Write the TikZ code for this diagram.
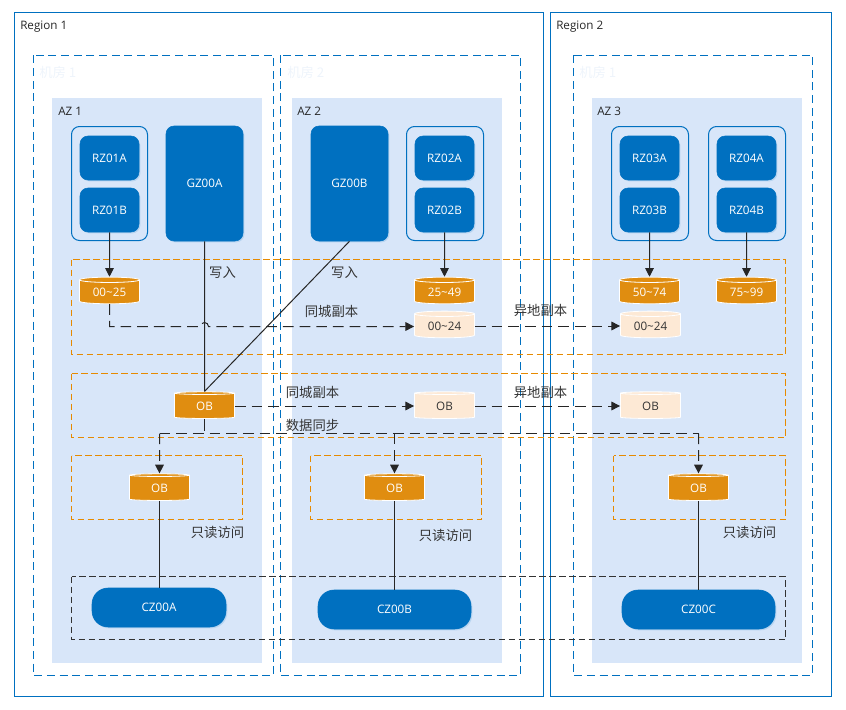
\documentclass[tikz,border=0pt]{standalone}
\usepackage{fontspec}
\setmainfont{Open Sans}
\newfontfamily\cjk{Noto Sans CJK SC}
\usetikzlibrary{shapes.geometric,arrows.meta,shadows}

\definecolor{hwblue}{HTML}{0070C0}
\definecolor{azfill}{HTML}{D8E6F9}
\definecolor{oborange}{HTML}{E08D10}
\definecolor{dashorange}{HTML}{E68A00}
\definecolor{oblight}{HTML}{FDE9D5}
\definecolor{inkgray}{HTML}{333333}
\definecolor{roomtext}{HTML}{EEF4FB}

\tikzset{
    sized/.style 2 args={minimum width=#1*0.75pt, minimum height=#2*0.75pt, inner sep=0pt},
    softshadow/.style={drop shadow={shadow xshift=1pt, shadow yshift=-1pt, opacity=0.15, fill=hwblue}},
    zonebox/.style={draw=hwblue, fill=hwblue, text=white, rounded corners=6pt, font=\fontsize{8.75}{10}\selectfont, softshadow},
    czbox/.style={zonebox, rounded corners=12pt},
    groupbox/.style={draw=hwblue, line width=0.75pt, rounded corners=6pt},
    regionline/.style={draw=hwblue, line width=0.75pt},
    roomline/.style={draw=hwblue, line width=0.75pt, dash pattern=on 6pt off 3.5pt},
    orangeline/.style={draw=dashorange, line width=1pt, dash pattern=on 5pt off 2.5pt},
    darkline/.style={draw=inkgray, line width=0.75pt, dash pattern=on 5pt off 2.5pt},
    dbbase/.style={cylinder, shape border rotate=90, aspect=0.16, draw=white, line width=0.6pt,
        cylinder uses custom fill, minimum width=45pt, minimum height=20pt, inner sep=0pt,
        font=\fontsize{8.75}{10}\selectfont},
    dbmain/.style={dbbase, cylinder body fill=oborange, cylinder end fill=oborange, text=white},
    dbcopy/.style={dbbase, cylinder body fill=oblight, cylinder end fill=oblight, text=inkgray},
    conn/.style={draw=black!85, line width=0.75pt},
    connarrow/.style={conn, -{Triangle[length=6.5pt,width=6.5pt]}},
    dashconn/.style={conn, dash pattern=on 8pt off 4.5pt},
    dasharrow/.style={dashconn, -{Triangle[length=6.5pt,width=6.5pt]}},
    plainlabel/.style={text=black!85, font=\fontsize{8.75}{10}\selectfont, inner sep=0pt, anchor=west},
    notelabel/.style={text=black!80, font=\cjk\fontsize{10}{12}\selectfont, inner sep=0pt},
    roomlabel/.style={text=roomtext, font=\cjk\fontsize{10}{12}\selectfont, inner sep=0pt, anchor=west},
}

\begin{document}
\begin{tikzpicture}[x=0.75pt, y=-0.75pt]
    \useasboundingbox (0,0) rectangle (846,710);

    % 可用区底色
    \fill[azfill] (52,98) rectangle (262,663);
    \fill[azfill] (292,98) rectangle (502,663);
    \fill[azfill] (592,98) rectangle (802,663);

    % Region 和机房边框
    \draw[regionline] (14.5,12.5) rectangle (543.5,696.5);
    \draw[regionline] (550.5,12.5) rectangle (831.5,696.5);
    \draw[roomline] (33.5,55.5) rectangle (273.5,675.5);
    \draw[roomline] (280.5,55.5) rectangle (520.5,675.5);
    \draw[roomline] (573.5,55.5) rectangle (812.5,675.5);

    \node[plainlabel] (region1) at (20,27) {Region 1};
    \node[plainlabel] (region2) at (556,27) {Region 2};
    \node[roomlabel] (room1) at (39,72) {机房 1};
    \node[roomlabel] (room2) at (287,72) {机房 2};
    \node[roomlabel] (room3) at (579,72) {机房 1};
    \node[plainlabel] (az1) at (58,111.5) {AZ 1};
    \node[plainlabel] (az2) at (297,111.5) {AZ 2};
    \node[plainlabel] (az3) at (597,111.5) {AZ 3};

    % 分组虚线框
    \draw[orangeline] (71.5,259.5) rectangle (785.5,354.5);
    \draw[orangeline] (71.5,373.5) rectangle (785.5,437.5);
    \draw[orangeline] (71.5,455.5) rectangle (242.5,519.5);
    \draw[orangeline] (310.5,455.5) rectangle (481.5,519.5);
    \draw[orangeline] (613.5,455.5) rectangle (785.5,519.5);
    \draw[darkline] (71.5,576.5) rectangle (785.5,639.5);

    % RZ 外框
    \draw[groupbox] (71.5,126.5) rectangle (147.5,240.5);
    \draw[groupbox] (406.5,126.5) rectangle (483.5,240.5);
    \draw[groupbox] (611.5,126.5) rectangle (688.5,240.5);
    \draw[groupbox] (708.5,126.5) rectangle (785.5,240.5);

    % 单元
    \node[zonebox, sized={59}{44}] (rz01a) at (109.5,158) {RZ01A};
    \node[zonebox, sized={59}{44}] (rz01b) at (109.5,210) {RZ01B};
    \node[zonebox, sized={59}{44}] (rz02a) at (444.5,158) {RZ02A};
    \node[zonebox, sized={59}{44}] (rz02b) at (444.5,210) {RZ02B};
    \node[zonebox, sized={59}{44}] (rz03a) at (649.5,158) {RZ03A};
    \node[zonebox, sized={59}{44}] (rz03b) at (649.5,210) {RZ03B};
    \node[zonebox, sized={59}{44}] (rz04a) at (746.5,158) {RZ04A};
    \node[zonebox, sized={59}{44}] (rz04b) at (746.5,210) {RZ04B};
    \node[zonebox, sized={77}{115}] (gz00a) at (204.5,183.5) {GZ00A};
    \node[zonebox, sized={77}{115}] (gz00b) at (349.5,183.5) {GZ00B};
    \node[czbox, sized={134}{39}] (cz00a) at (159,607.5) {CZ00A};
    \node[czbox, sized={153}{39}] (cz00b) at (394.5,609.5) {CZ00B};
    \node[czbox, sized={153}{39}] (cz00c) at (698.5,609.5) {CZ00C};

    % 数据库
    \node[dbmain] (db0025) at (109.5,292) {00\textasciitilde25};
    \node[dbmain] (db2549) at (444.5,292) {25\textasciitilde49};
    \node[dbmain] (db5074) at (649.5,292) {50\textasciitilde74};
    \node[dbmain] (db7599) at (746.5,292) {75\textasciitilde99};
    \node[dbcopy] (copy1) at (444.5,326) {00\textasciitilde24};
    \node[dbcopy] (copy2) at (650.5,326) {00\textasciitilde24};
    \node[dbmain] (obmain) at (204.5,406) {OB};
    \node[dbcopy] (obcopy1) at (444.5,406) {OB};
    \node[dbcopy] (obcopy2) at (650.5,406) {OB};
    \node[dbmain] (obread1) at (159.5,488) {OB};
    \node[dbmain] (obread2) at (394.5,488) {OB};
    \node[dbmain] (obread3) at (698.5,488) {OB};

    % 写入连线
    \draw[connarrow] (rz01b.south) -- (db0025.north);
    \draw[connarrow] (rz02b.south) -- (db2549.north);
    \draw[connarrow] (rz03b.south) -- (db5074.north);
    \draw[connarrow] (rz04b.south) -- (db7599.north);
    \draw[conn] (gz00a.south) -- (obmain.north);
    \draw[conn] (gz00b.south) -- (obmain.north);

    % 副本连线
    \coordinate (bumpleft) at (200.5,326.5);
    \draw[dasharrow] (db0025.south) |- (bumpleft) arc (180:360:4) -- (copy1.west |- bumpleft);
    \draw[dasharrow] (copy1.east) -- (copy2.west);
    \draw[dasharrow] (obmain.east) -- (obcopy1.west);
    \draw[dasharrow] (obcopy1.east) -- (obcopy2.west);

    % 数据同步连线
    \coordinate (syncstub) at (204.5,431);
    \coordinate (syncleft) at (159.5,433.5);
    \coordinate (syncright) at (698.5,433.5);
    \draw[conn] (obmain.south) -- (syncstub);
    \draw[dashconn] (syncleft) -- (syncright);
    \draw[dasharrow] (syncleft) -- (obread1.north);
    \draw[dasharrow] (obread2.north |- syncleft) -- (obread2.north);
    \draw[dasharrow] (syncright) -- (obread3.north);

    % 只读连线
    \draw[conn] (obread1.south) -- (cz00a.north -| obread1.south);
    \draw[conn] (obread2.south) -- (cz00b.north -| obread2.south);
    \draw[conn] (obread3.south) -- (cz00c.north -| obread3.south);

    % 文字标注
    \node[notelabel] (write1) at (222.5,272.5) {写入};
    \node[notelabel] (write2) at (344.5,272.5) {写入};
    \node[notelabel] (local1) at (331.5,311.5) {同城副本};
    \node[notelabel] (remote1) at (540.5,310.5) {异地副本};
    \node[notelabel] (local2) at (312.5,392.5) {同城副本};
    \node[notelabel] (remote2) at (540.5,392.5) {异地副本};
    \node[notelabel] (sync) at (312.5,425.5) {数据同步};
    \node[notelabel] (read1) at (217.5,532.5) {只读访问};
    \node[notelabel] (read2) at (445.5,535.5) {只读访问};
    \node[notelabel] (read3) at (749.5,532.5) {只读访问};
\end{tikzpicture}
\end{document}
